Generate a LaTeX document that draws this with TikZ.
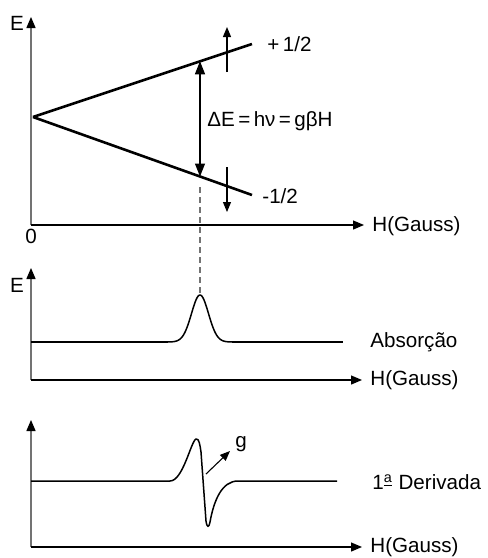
\documentclass[tikz,border=0pt]{standalone}
\usepackage{fontspec}
\setmainfont{Liberation Sans}
\usetikzlibrary{arrows.meta}
\tikzset{
  lbl/.style={font=\fontsize{10.3}{12}\selectfont, inner sep=0pt},
  haxis/.style={line width=0.65pt, -{Triangle[length=5.5pt,width=4.5pt]}},
  vaxis/.style={line width=0.65pt, draw=black!55, -{Triangle[length=5.5pt,width=4.5pt,black]}},
  level/.style={line width=1.3pt},
  spin/.style={line width=0.55pt, -{Triangle[length=5pt,width=4pt]}},
  curve/.style={line width=0.75pt},
}
\begin{document}
\begin{tikzpicture}[x=0.5pt,y=-0.5pt]
  \useasboundingbox (0,0) rectangle (488,558);
  % energy levels
  \coordinate (O1) at (31,225);
  \coordinate (E1) at (31,17);
  \coordinate (H1) at (364,225);
  \draw[vaxis] (O1) -- (E1);
  \draw[haxis] (O1) -- (H1);
  \node[lbl] (labE1) at (17,23) {E};
  \node[lbl] (zero) at (31,236) {0};
  \node[lbl,anchor=west] (labH1) at (372,226) {H(Gauss)};
  \coordinate (V) at (33,117);
  \coordinate (up) at (252,44);
  \coordinate (down) at (252,195);
  \draw[level] (V) -- (up);
  \draw[level] (V) -- (down);
  \node[lbl,anchor=west] (plus) at (267,44) {+\,1/2};
  \node[lbl,anchor=west] (minus) at (262,196) {-1/2};
  \coordinate (dEa) at (200,61.3);
  \coordinate (dEb) at (200,176.5);
  \draw[line width=0.65pt, {Triangle[length=6.5pt,width=5pt]}-{Triangle[length=6.5pt,width=5pt]}] (dEa) -- (dEb);
  \node[lbl,anchor=west] (dE) at (207,121) {ΔE\,=\,hν\,=\,gβH};
  \coordinate (s1) at (227,72);
  \coordinate (s1t) at (227,27);
  \coordinate (s2) at (227,167);
  \coordinate (s2t) at (227,212);
  \draw[spin] (s1) -- (s1t);
  \draw[spin] (s2) -- (s2t);
  \coordinate (res) at (200,187);
  \coordinate (top) at (200,293);
  \draw[black!55, line width=0.6pt, dash pattern=on 3pt off 2pt] (res) -- (top);
  % absorption
  \coordinate (O2) at (31,380);
  \coordinate (E2) at (31,268);
  \coordinate (H2) at (362,380);
  \draw[vaxis] (O2) -- (E2);
  \draw[haxis] (O2) -- (H2);
  \node[lbl] (labE2) at (17,285) {E};
  \node[lbl,anchor=west] (labH2) at (370,380) {H(Gauss)};
  \draw[line width=1.2pt] (31,342) -- (168,342);
  \draw[curve] plot[domain=168:232, samples=80, smooth] (\x, {342-47*exp(-((\x-200)/12)^2)});
  \draw[curve] (232,342) -- (343,342);
  \node[lbl,anchor=west] (abs) at (370,342) {Absorção};
  % first derivative
  \coordinate (O3) at (31,547);
  \coordinate (E3) at (31,420);
  \coordinate (H3) at (362,547);
  \draw[vaxis] (O3) -- (E3);
  \draw[haxis] (O3) -- (H3);
  \node[lbl,anchor=west] (labH3) at (370,547) {H(Gauss)};
  \draw[curve, line join=round] (31,481) -- (170,481)
    .. controls (183,481) and (191,441) .. (196,439)
    .. controls (199,438) and (200,445) .. (201,452)
    -- (206,521)
    .. controls (207,528) and (209,528) .. (210,522)
    .. controls (214,500) and (222,481) .. (238,481)
    -- (337,481);
  \coordinate (gfrom) at (206,474);
  \coordinate (gto) at (230,451);
  \draw[line width=0.55pt, -{Triangle[length=5pt,width=4pt]}] (gfrom) -- (gto);
  \node[lbl] (labg) at (241,444) {g};
  \node[lbl,anchor=west] (deriv) at (372,482) {1\textsuperscript{\underline{a}} Derivada};
\end{tikzpicture}
\end{document}
